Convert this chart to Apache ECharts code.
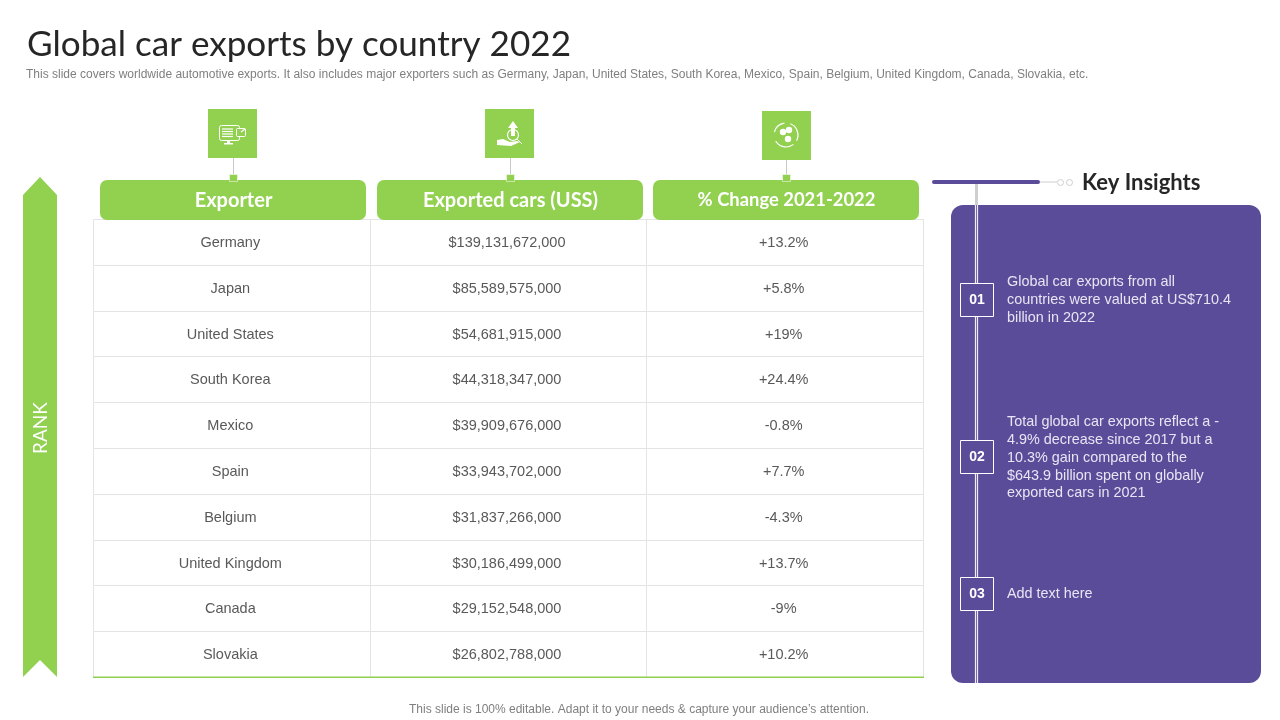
<!DOCTYPE html>
<html lang="en">
<head>
    <meta charset="UTF-8">
    <title>Global car exports by country 2022</title>
    <script src="https://cdn.jsdelivr.net/npm/echarts@6/dist/echarts.min.js"></script>
    <style>
        html, body { margin: 0; padding: 0; background: #fff; }
        #chart { width: 1280px; height: 720px; }
    </style>
</head>
<body>
    <div id="chart"></div>
    <script>
        const titleText = "Global car exports by country 2022";
        const subtitleText = "This slide covers worldwide automotive exports. It also includes major exporters such as Germany, Japan, United States, South Korea, Mexico, Spain, Belgium, United Kingdom, Canada, Slovakia, etc.";
        const footerText = "This slide is 100% editable. Adapt it to your needs & capture your audience\u2019s attention.";
        const columns = ["Exporter", "Exported cars (USS)", "% Change 2021-2022"];
        const exporters = ["Germany", "Japan", "United States", "South Korea", "Mexico", "Spain", "Belgium", "United Kingdom", "Canada", "Slovakia"];
        const exportedCars = [139131672000, 85589575000, 54681915000, 44318347000, 39909676000, 33943702000, 31837266000, 30186499000, 29152548000, 26802788000];
        const changes = ["+13.2%", "+5.8%", "+19%", "+24.4%", "-0.8%", "+7.7%", "-4.3%", "+13.7%", "-9%", "+10.2%"];
        const insightNumbers = ["01", "02", "03"];
        const insightLines = [
            ["Global car exports from all", "countries were valued at US$710.4", "billion in 2022"],
            ["Total global car exports reflect a -", "4.9% decrease since 2017 but a", "10.3% gain compared to the", "$643.9 billion spent on globally", "exported cars in 2021"],
            ["Add text here"]
        ];

        const GREEN = "#92D050";
        const PURPLE = "#5B4C9A";
        const GRID_LINE = "#e4e4e4";
        const BODY_FONT = '"Liberation Sans", Arial, sans-serif';
        const HEAD_FONT = 'Lato, sans-serif';

        const money = (v) => "$" + v.toLocaleString("en-US");

        // one row of cells per exporter: [column, row, text]
        const cells = [];
        exporters.forEach((name, i) => {
            cells.push([0, i, name]);
            cells.push([1, i, money(exportedCars[i])]);
            cells.push([2, i, changes[i]]);
        });

        function renderCell(params, api) {
            const center = api.coord([api.value(0), api.value(1)]);
            const size = api.size([1, 1]);
            // snap borders to the pixel so neighbouring cells share one crisp line
            const x0 = Math.round(center[0] - size[0] / 2) + 0.5;
            const x1 = Math.round(center[0] + size[0] / 2) + 0.5;
            const y0 = Math.round(center[1] - size[1] / 2) + 0.5;
            const y1 = Math.round(center[1] + size[1] / 2) + 0.5;
            const children = [
                {
                    type: "rect",
                    shape: { x: x0, y: y0, width: x1 - x0, height: y1 - y0 },
                    style: { fill: "#fff", stroke: GRID_LINE, lineWidth: 1 }
                },
                {
                    type: "text",
                    style: {
                        x: center[0] - 1,
                        y: center[1] + 1,
                        text: api.value(2),
                        fill: "#595959",
                        font: '14.5px ' + BODY_FONT,
                        align: "center",
                        verticalAlign: "middle"
                    }
                }
            ];
            if (api.value(1) === exporters.length - 1) {
                // green closing rule under the last row
                children.push({
                    type: "rect",
                    shape: { x: x0 - 0.5, y: y1 - 1, width: x1 - x0 + 1, height: 1.5 },
                    style: { fill: GREEN, stroke: null }
                });
            }
            return { type: "group", children };
        }

        const graphics = [];
        const text = (x, y, str, size, fill, opts = {}) => graphics.push({
            type: "text",
            z: opts.z || 10,
            rotation: opts.rotation || 0,
            x, y,
            style: {
                text: str,
                fill,
                font: (opts.weight || "normal") + " " + size + "px " + (opts.family || BODY_FONT),
                align: opts.align || "left",
                verticalAlign: "middle"
            }
        });
        const rect = (x, y, w, h, fill, opts = {}) => graphics.push({
            type: "rect",
            z: opts.z || 5,
            shape: { x, y, width: w, height: h, r: opts.r || 0 },
            style: { fill, stroke: opts.stroke || null, lineWidth: opts.lineWidth || 1 }
        });
        const line = (x1, y1, x2, y2, stroke, lineWidth, z = 6) => graphics.push({
            type: "line",
            z,
            shape: { x1, y1, x2, y2 },
            style: { stroke, lineWidth }
        });

        text(27, 45, titleText, 35.1, "#262626", { family: HEAD_FONT });
        text(26, 75, subtitleText, 12, "#7f7f7f");
        text(639, 710, footerText, 12, "#7f7f7f", { align: "center" });

        // rank ribbon
        graphics.push({
            type: "polygon",
            z: 5,
            shape: { points: [[40, 177], [57, 195], [57, 677], [40, 660], [23, 677], [23, 195]] },
            style: { fill: GREEN }
        });
        text(41, 428, "RANK", 19, "#fff", { family: HEAD_FONT, rotation: Math.PI / 2, align: "center" });

        // column headers with icons
        const headerX = [100, 377, 653];
        const headerSize = [20, 20, 18.4];
        const iconX = [208, 485, 762];
        const iconY = [109, 109, 111];
        columns.forEach((label, i) => {
            const cx = headerX[i] + 133;
            line(cx + 0.5, iconY[i] + 49, cx + 0.5, 177, "#c9c9c9", 1);
            rect(iconX[i], iconY[i], 49, 49, GREEN);
            rect(headerX[i], 180, 266, 40, GREEN, { r: 7, z: 6 });
            rect(cx - 3.5, 174.5, 8, 7, GREEN, { z: 7, stroke: "#fff", lineWidth: 0.5 });
            text(cx + 0.5, 200.5, label, headerSize[i], "#fff", { family: HEAD_FONT, weight: "bold", align: "center", z: 8 });
        });

        // monitor icon
        rect(219.5, 125.5, 20, 15, null, { stroke: "#fff", z: 8, r: 2 });
        for (let y = 129; y < 138; y += 2.5) line(222, y, 233, y, "#fff", 1.2, 8);
        rect(236.5, 128.5, 9, 8, GREEN, { stroke: "#fff", z: 9, r: 1 });
        line(241, 132, 245, 129, "#fff", 1.2, 9);
        rect(227, 141, 3, 3, "#fff", { z: 8 });
        rect(224, 143, 9, 1.5, "#fff", { z: 8 });

        // hand with upward arrow icon
        graphics.push({
            type: "polygon", z: 8,
            shape: { points: [[513, 121], [518, 128], [515, 128], [515, 136], [511, 136], [511, 128], [508, 128]] },
            style: { fill: "#fff" }
        });
        graphics.push({ type: "circle", z: 8, shape: { cx: 513, cy: 135, r: 5.5 }, style: { fill: "none", stroke: "#fff", lineWidth: 1.2 } });
        graphics.push({
            type: "polygon", z: 8,
            shape: { points: [[497, 140], [503, 139], [510, 142], [517, 141], [520, 142], [511, 146], [497, 145]] },
            style: { fill: "#fff" }
        });
        line(517, 139, 522, 144, "#fff", 1, 8);

        // gears with arrows icon
        [[783, 132], [789, 130], [788, 139]].forEach(([cx, cy]) => {
            graphics.push({ type: "circle", z: 8, shape: { cx, cy, r: 3.2 }, style: { fill: "#fff" } });
        });
        [[-2.9, -1.7], [-1.2, 0.5], [0.9, 2.6]].forEach(([startAngle, endAngle]) => {
            graphics.push({
                type: "arc", z: 8,
                shape: { cx: 786, cy: 135, r: 12, startAngle, endAngle },
                style: { fill: "none", stroke: "#fff", lineWidth: 1.2 }
            });
        });

        // key insights
        rect(951, 205, 310, 478, PURPLE, { r: 12, z: 3 });
        line(976.5, 184, 976.5, 205, "#cfcfcf", 3, 4);
        line(975.5, 205, 975.5, 683, "#eeecf6", 1.2, 5);
        line(977.5, 205, 977.5, 683, "#eeecf6", 1.2, 5);
        rect(932, 180, 108, 4, PURPLE, { r: 2 });
        line(1040, 182, 1057, 182, "#cfcfcf", 1);
        [1060.5, 1069.5].forEach((cx) => {
            graphics.push({ type: "circle", z: 6, shape: { cx, cy: 182.5, r: 3 }, style: { fill: "#fff", stroke: "#cfcfcf", lineWidth: 1 } });
        });
        text(1082, 183, "Key Insights", 22, "#262626", { family: HEAD_FONT, weight: "bold" });

        const numberBoxY = [283, 440, 577];
        const firstLineY = [282.5, 422.5, 594.5];
        insightNumbers.forEach((num, i) => {
            rect(960.5, numberBoxY[i] + 0.5, 33, 33, PURPLE, { stroke: "#fff", z: 7 });
            text(977, numberBoxY[i] + 17.5, num, 14, "#fff", { weight: "bold", align: "center", z: 8 });
            insightLines[i].forEach((str, j) => {
                text(1007, firstLineY[i] + j * 17.75, str, 14.4, "#e8e5f3", { z: 8 });
            });
        });

        const chart = echarts.init(document.getElementById("chart"));
        chart.setOption({
            animation: false,
            backgroundColor: "#fff",
            grid: { left: 93, top: 219, width: 830, height: 458 },
            xAxis: { type: "category", data: columns, show: false },
            yAxis: { type: "category", data: exporters, inverse: true, show: false },
            series: [
                {
                    type: "custom",
                    coordinateSystem: "cartesian2d",
                    encode: { x: 0, y: 1 },
                    data: cells,
                    renderItem: renderCell,
                    silent: true
                }
            ],
            graphic: { elements: graphics }
        });
    </script>
</body>
</html>
